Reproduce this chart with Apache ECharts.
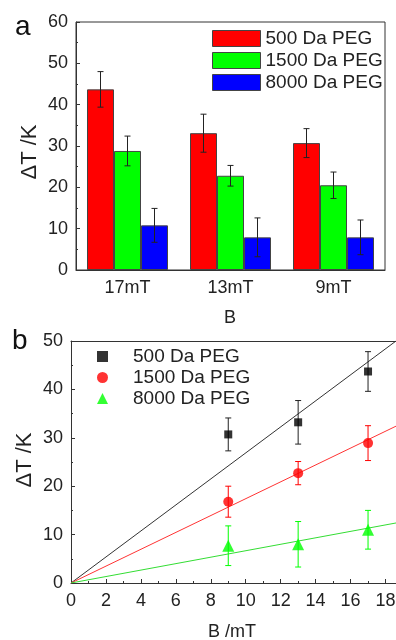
<!DOCTYPE html>
<html><head><meta charset="utf-8">
<script src="https://cdn.jsdelivr.net/npm/echarts@6/dist/echarts.min.js"></script>
<style>html,body{margin:0;padding:0;background:#fff}#c{width:396px;height:640px}</style>
</head><body><div id="c"></div>
<script>
// ---- Panel a: bar chart ----
const categories = ['17mT', '13mT', '9mT'];
const bar500 = [43.7, 33.1, 30.7];
const bar1500 = [28.8, 22.8, 20.5];
const bar8000 = [10.8, 7.9, 7.9];
const barErr500 = [4.3, 4.6, 3.5];
const barErr1500 = [3.6, 2.5, 3.2];
const barErr8000 = [4.1, 4.7, 4.2];
const yTicksA = [0, 10, 20, 30, 40, 50, 60];

// ---- Panel b: scatter + linear fits ----
const fieldB = [9, 13, 17];
const pt500 = [30.7, 33.2, 43.7];
const pt1500 = [16.8, 22.7, 28.9];
const pt8000 = [7.7, 8.0, 11.0];
const ptErr500 = [3.4, 4.5, 4.1];
const ptErr1500 = [3.2, 2.4, 3.6];
const ptErr8000 = [4.1, 4.7, 4.0];
const fitX = [0, 18.6];
const fit500 = [0, 50.0];
const fit1500 = [0, 32.4];
const fit8000 = [0, 12.4];
const xTicksB = [0, 2, 4, 6, 8, 10, 12, 14, 16, 18];
const yTicksB = [0, 10, 20, 30, 40, 50];

const names = ['500 Da PEG', '1500 Da PEG', '8000 Da PEG'];
const FONT = 'Liberation Sans, Arial, sans-serif';
const AX = '#333';
const BW = 27;

function errBar(cats, vals, errs, offsetIdx, color, xAxisIndex, yAxisIndex, isCat) {
  return {
    type: 'custom', xAxisIndex, yAxisIndex, z: 10, silent: true,
    data: vals.map((v, i) => [isCat ? i : cats[i], v, errs[i]]),
    renderItem: function (params, api) {
      const x = api.value(0), v = api.value(1), e = api.value(2);
      const top = api.coord([x, v + e]);
      const bot = api.coord([x, v - e]);
      const cx = top[0] + offsetIdx * BW;
      const hw = 3;
      const st = { stroke: color, lineWidth: 1 };
      return { type: 'group', children: [
        { type: 'line', shape: { x1: cx, y1: top[1], x2: cx, y2: bot[1] }, style: st },
        { type: 'line', shape: { x1: cx - hw, y1: top[1], x2: cx + hw, y2: top[1] }, style: st },
        { type: 'line', shape: { x1: cx - hw, y1: bot[1], x2: cx + hw, y2: bot[1] }, style: st }
      ]};
    }
  };
}

const chart = echarts.init(document.getElementById('c'), null, { renderer: 'canvas' });
const barColors = ['#ff0000', '#00ff00', '#0000ff'];
const ptColors = ['#000000', '#ff0000', '#00ff00'];
const fitColors = ['#333333', '#ff3333', '#33dd33'];

const option = {
  backgroundColor: '#fff',
  animation: false,
  textStyle: { fontFamily: FONT },
  grid: [
    { left: 76, top: 22, right: 11, bottom: 370, show: true, borderColor: AX, borderWidth: 1,
      backgroundColor: 'transparent', outerBoundsMode: 'none', containLabel: false },
    { left: 71, top: 341, right: 0, bottom: 57, show: false, outerBoundsMode: 'none', containLabel: false }
  ],
  legend: [
    { orient: 'vertical', left: 207, top: 24, itemWidth: 48, itemHeight: 16, itemGap: 3, icon: 'rect',
      data: names.map(n => 'a:' + n), formatter: n => n.slice(2),
      itemStyle: { borderColor: '#444', borderWidth: 1 },
      textStyle: { fontSize: 19, color: '#222', fontFamily: FONT }, selectedMode: false },
    { orient: 'vertical', left: 92, top: 342, itemWidth: 11, itemHeight: 11, itemGap: 2,
      data: names.map(n => 'b:' + n), formatter: n => n.slice(2),
      textStyle: { fontSize: 19, color: '#222', fontFamily: FONT, padding: [0, 0, 0, 20] }, selectedMode: false }
  ],
  xAxis: [
    { type: 'category', gridIndex: 0, data: categories, boundaryGap: true,
      axisLine: { lineStyle: { color: AX } },
      axisTick: { alignWithLabel: true, length: 4, lineStyle: { color: AX } },
      axisLabel: { fontSize: 18, color: '#222', margin: 9, fontFamily: FONT },
      splitLine: { show: false } },
    { type: 'value', gridIndex: 1, min: 0, max: 18.6, interval: 2,
      axisLine: { onZero: false, lineStyle: { color: AX } },
      axisTick: { inside: true, length: 4, lineStyle: { color: AX } },
      minorTick: { show: true, splitNumber: 2, length: 2, lineStyle: { color: AX } },
      axisLabel: { fontSize: 18, color: '#222', margin: 9, fontFamily: FONT, showMaxLabel: false,
        formatter: v => xTicksB.indexOf(v) >= 0 ? String(v) : '' },
      splitLine: { show: false } },
    { type: 'value', gridIndex: 1, position: 'top', min: 0, max: 18.6,
      axisLine: { onZero: false, lineStyle: { color: AX } },
      axisTick: { show: false }, axisLabel: { show: false }, splitLine: { show: false } }
  ],
  yAxis: [
    { type: 'value', gridIndex: 0, min: yTicksA[0], max: yTicksA[yTicksA.length - 1], interval: 10,
      axisLine: { show: true, lineStyle: { color: AX } },
      axisTick: { show: true, inside: true, length: 4, lineStyle: { color: AX } },
      minorTick: { show: true, splitNumber: 2, length: 2, lineStyle: { color: AX } },
      axisLabel: { fontSize: 18, color: '#222', margin: 8, fontFamily: FONT },
      splitLine: { show: false } },
    { type: 'value', gridIndex: 1, min: yTicksB[0], max: yTicksB[yTicksB.length - 1], interval: 10,
      axisLine: { show: true, onZero: false, lineStyle: { color: AX } },
      axisTick: { show: true, inside: true, length: 4, lineStyle: { color: AX } },
      minorTick: { show: true, splitNumber: 2, length: 2, lineStyle: { color: AX } },
      axisLabel: { fontSize: 18, color: '#222', margin: 8, fontFamily: FONT },
      splitLine: { show: false } }
  ],
  graphic: [
    { type: 'text', left: 15, top: 13, style: { text: 'a', font: '28px ' + FONT, fill: '#111' } },
    { type: 'text', left: 12, top: 327, style: { text: 'b', font: '28px ' + FONT, fill: '#111' } },
    { type: 'text', x: 30, y: 152, rotation: Math.PI / 2,
      style: { text: 'ΔT /K', font: '22px ' + FONT, fill: '#222', align: 'center', verticalAlign: 'middle' } },
    { type: 'text', x: 25, y: 460, rotation: Math.PI / 2,
      style: { text: 'ΔT /K', font: '22px ' + FONT, fill: '#222', align: 'center', verticalAlign: 'middle' } },
    { type: 'text', x: 230, y: 318,
      style: { text: 'B', font: '18px ' + FONT, fill: '#222', align: 'center', verticalAlign: 'middle' } },
    { type: 'text', x: 232, y: 632,
      style: { text: 'B /mT', font: '18px ' + FONT, fill: '#222', align: 'center', verticalAlign: 'middle' } }
  ],
  series: []
};

const barVals = [bar500, bar1500, bar8000];
const barErrs = [barErr500, barErr1500, barErr8000];
barVals.forEach((vals, k) => {
  option.series.push({
    type: 'bar', name: 'a:' + names[k], xAxisIndex: 0, yAxisIndex: 0,
    data: vals, barWidth: BW, barGap: '0%',
    itemStyle: { color: barColors[k], borderColor: '#444', borderWidth: 1 }
  });
});
barVals.forEach((vals, k) => {
  option.series.push(errBar(categories, vals, barErrs[k], k - 1, '#222', 0, 0, true));
});

const fits = [fit500, fit1500, fit8000];
fits.forEach((f, k) => {
  option.series.push({
    type: 'line', xAxisIndex: 1, yAxisIndex: 1, showSymbol: false, silent: true,
    data: fitX.map((x, i) => [x, f[i]]), clip: true,
    lineStyle: { color: fitColors[k], width: 1 }, z: 3
  });
});
const ptVals = [pt500, pt1500, pt8000];
const ptErrs = [ptErr500, ptErr1500, ptErr8000];
ptVals.forEach((vals, k) => {
  option.series.push(errBar(fieldB, vals, ptErrs[k], 0, ptColors[k] === '#000000' ? '#222' : ptColors[k], 1, 1, false));
});
const symbols = ['rect', 'circle', 'triangle'];
const sizes = [8, 10, 12];
ptVals.forEach((vals, k) => {
  option.series.push({
    type: 'scatter', name: 'b:' + names[k], xAxisIndex: 1, yAxisIndex: 1,
    data: fieldB.map((x, i) => [x, vals[i]]),
    symbol: symbols[k], symbolSize: sizes[k], z: 12,
    itemStyle: { color: ptColors[k] }
  });
});

chart.setOption(option);
</script>
</body></html>
